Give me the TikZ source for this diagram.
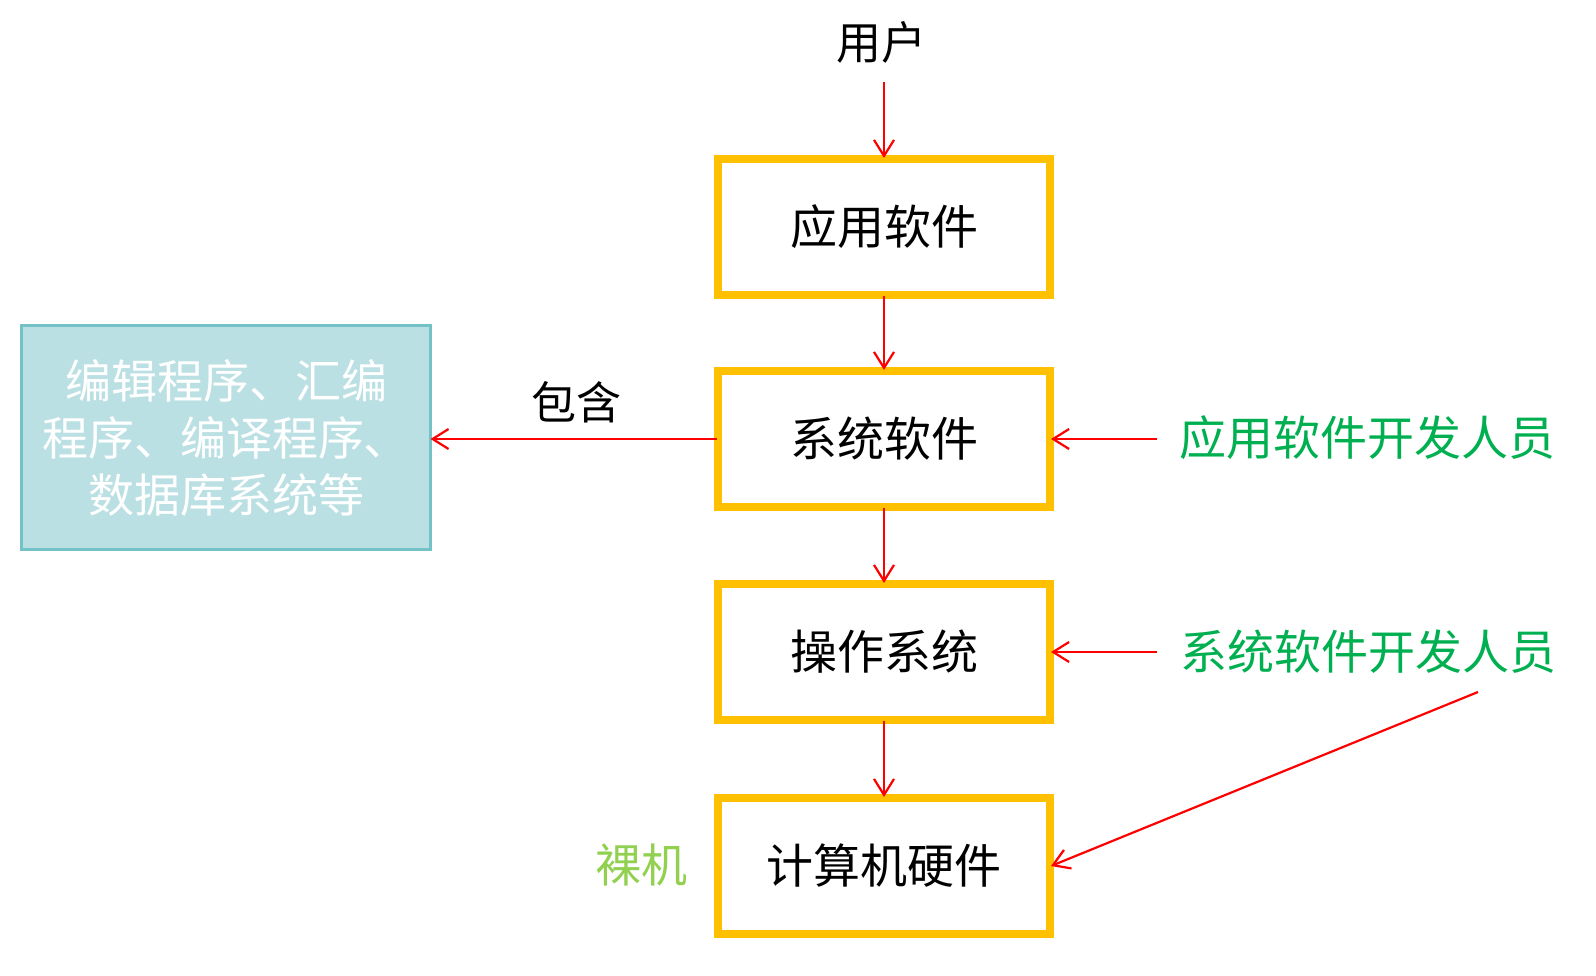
\documentclass[tikz,border=0pt]{standalone}
\usepackage{fontspec}
\newfontfamily\cjk{Noto Sans CJK SC}
\usetikzlibrary{arrows.meta}
\definecolor{boxyellow}{HTML}{FFC000}
\definecolor{arrred}{HTML}{FF0000}
\definecolor{devgreen}{HTML}{00B050}
\definecolor{barelime}{HTML}{92D050}
\definecolor{tealfill}{HTML}{BBE0E3}
\definecolor{tealline}{HTML}{74C2C8}
\tikzset{
  layer/.style={draw=boxyellow, line width=8pt, fill=white, minimum width=332pt, minimum height=136pt, inner sep=0pt, outer sep=1pt, font=\cjk\fontsize{47}{50}\selectfont},
  arr/.style={draw=arrred, line width=2.2pt, -{Straight Barb[length=16pt,width=20pt]}},
  lbl/.style={inner sep=0pt, font=\cjk\fontsize{45}{50}\selectfont},
  dev/.style={lbl, text=devgreen, font=\cjk\fontsize{47}{50}\selectfont},
  incl/.style={draw=tealline, line width=3pt, fill=tealfill, minimum width=409pt, minimum height=224pt, inner sep=0pt, outer sep=0pt, align=center, text=white, font=\cjk\fontsize{46}{57}\selectfont}
}
\begin{document}
\begin{tikzpicture}[x=1pt,y=-1pt]
\useasboundingbox (0,0) rectangle (1596,976);
\node[layer] (app) at (884,227) {应用软件};
\node[layer] (sys) at (884,439) {系统软件};
\node[layer] (os) at (884,652) {操作系统};
\node[layer] (hw) at (884,866) {计算机硬件};
\node[incl] (inc) at (226,437.5) {编辑程序、汇编\\程序、编译程序、\\数据库系统等};
\node[lbl] (user) at (881,42) {用户};
\node[lbl] (contain) at (576,402) {包含};
\node[dev] (appdev) at (1367,438) {应用软件开发人员};
\node[dev] (sysdev) at (1368,652) {系统软件开发人员};
\node[lbl, text=barelime, font=\cjk\fontsize{46}{50}\selectfont] (bare) at (641,865) {裸机};
\coordinate (ustart) at (884,82);
\coordinate (a1) at (1157,439);
\coordinate (a2) at (1157,652);
\coordinate (dstart) at (1478,692);
\draw[arr] (ustart) -- (app.north);
\draw[arr] (app.south) -- (sys.north);
\draw[arr] (sys.south) -- (os.north);
\draw[arr] (os.south) -- (hw.north);
\draw[arr] (sys.west) -- (sys.west -| inc.east);
\draw[arr] (a1) -- (sys.east);
\draw[arr] (a2) -- (os.east);
\draw[arr] (dstart) -- (hw.east);
\end{tikzpicture}
\end{document}
